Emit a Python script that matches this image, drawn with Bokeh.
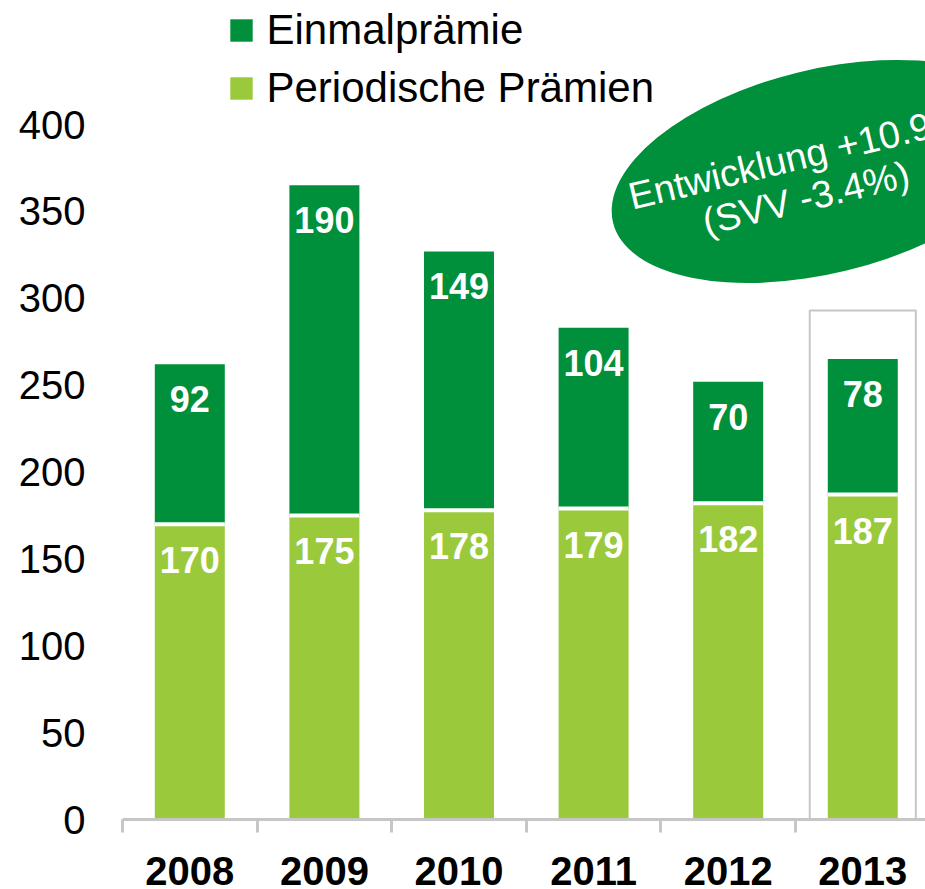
from bokeh.plotting import figure
from bokeh.models import (Range1d, LinearAxis, FixedTicker, Legend, LegendItem,
                          ColumnDataSource)
from bokeh.core.properties import value
from bokeh.embed import file_html
from bokeh.resources import INLINE
import numpy as np

# ---- data ----
years = ["2008", "2009", "2010", "2011", "2012", "2013"]
periodic = [170, 175, 178, 179, 182, 187]      # Periodische Prämien
single = [92, 190, 149, 104, 70, 78]           # Einmalprämie
y_ticks = [0, 50, 100, 150, 200, 250, 300, 350, 400]
series_names = ["Einmalprämie", "Periodische Prämien"]
note_text = "Entwicklung +10.9%\n(SVV -3.4%)"
highlight_year = "2013"

DARK = "#008F3A"
LIGHT = "#9ACA3C"
GRAY = "#C6C6C6"
FONT = "Liberation Sans"
BAR_W = 0.52

xs = np.arange(len(years)) + 0.5
per = np.array(periodic, dtype=float)
sin = np.array(single, dtype=float)
tot = per + sin

src = ColumnDataSource(dict(x=xs, x0=xs - BAR_W / 2, x1=xs + BAR_W / 2,
                            per=per, tot=tot,
                            per_lbl=[str(v) for v in periodic],
                            sin_lbl=[str(v) for v in single]))

p = figure(width=925, height=889, output_backend="svg", toolbar_location=None,
           x_range=Range1d(0, 5.966), y_range=Range1d(0, 471.4),
           x_axis_type=None, y_axis_type=None,
           min_border_left=122, min_border_right=0, min_border_top=0,
           min_border_bottom=70)
p.outline_line_color = None
p.background_fill_color = "white"
p.border_fill_color = "white"

# highlight box around 2013
hi = years.index(highlight_year) + 0.5
p.quad(left=[hi - 0.394], right=[hi + 0.394], bottom=[0], top=[293],
       fill_color=None, line_color=GRAY, line_width=2)

# bars
r_light = p.vbar(x="x", width=BAR_W, bottom=0, top="per", source=src,
                 fill_color=LIGHT, line_color=None)
r_dark = p.vbar(x="x", width=BAR_W, bottom="per", top="tot", source=src,
                fill_color=DARK, line_color=None)
# white separator between the two segments
p.segment(x0="x0", x1="x1", y0="per", y1="per", source=src,
          line_color="white", line_width=4)

# value labels
p.text(x="x", y="tot", text="sin_lbl", source=src, y_offset=35,
       text_align="center", text_baseline="middle", text_color="white",
       text_font=value(FONT), text_font_style="bold", text_font_size="36px")
p.text(x="x", y="per", text="per_lbl", source=src, y_offset=36,
       text_align="center", text_baseline="middle", text_color="white",
       text_font=value(FONT), text_font_style="bold", text_font_size="36px")

# ellipse note
p.ellipse(x=[5.2], y=[373], width=431, height=204, angle=0.24,
          width_units="screen", height_units="screen",
          fill_color=DARK, line_color=None)
p.text(x=[5.042], y=[369.5], text=[note_text], angle=0.235,
       text_align="center", text_baseline="middle", text_color="white",
       text_font=value(FONT), text_font_size="38px", text_line_height=1.0)

# axes
xaxis = LinearAxis(ticker=FixedTicker(ticks=list(xs), minor_ticks=list(range(len(years) + 1))))
xaxis.major_label_overrides = {float(x): y for x, y in zip(xs, years)}
xaxis.axis_line_color = GRAY
xaxis.axis_line_width = 3
xaxis.major_tick_line_color = None
xaxis.major_tick_out = 0
xaxis.major_tick_in = 0
xaxis.minor_tick_line_color = GRAY
xaxis.minor_tick_line_width = 3
xaxis.minor_tick_out = 13
xaxis.minor_tick_in = 0
xaxis.major_label_standoff = 24
xaxis.major_label_text_font = FONT
xaxis.major_label_text_font_style = "bold"
xaxis.major_label_text_font_size = "40px"
xaxis.major_label_text_color = "black"
p.add_layout(xaxis, "below")

yaxis = LinearAxis(ticker=FixedTicker(ticks=y_ticks))
yaxis.axis_line_color = None
yaxis.major_tick_line_color = None
yaxis.minor_tick_line_color = None
yaxis.major_tick_out = 0
yaxis.major_tick_in = 0
yaxis.major_label_standoff = 37
yaxis.major_label_text_font = FONT
yaxis.major_label_text_font_size = "40px"
yaxis.major_label_text_color = "black"
p.add_layout(yaxis, "left")

legend = Legend(items=[LegendItem(label=series_names[0], renderers=[r_dark]),
                       LegendItem(label=series_names[1], renderers=[r_light])],
                location=(104.5, 707), glyph_width=28, glyph_height=28,
                label_text_font=FONT, label_text_font_size="42px",
                label_text_color="black",
                label_standoff=12, spacing=10, padding=0, margin=0,
                border_line_color=None, background_fill_alpha=0)
p.add_layout(legend)

open("out.html", "w").write(file_html(p, INLINE))
